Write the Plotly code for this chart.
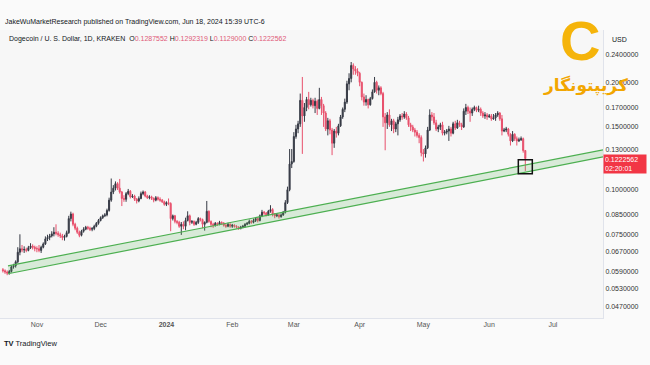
import plotly.graph_objects as go
import pandas as pd
import numpy as np

# ---------------- data ----------------
dates = pd.date_range("2023-10-16", "2024-06-18", freq="D")
first_open = 0.0597

closes = [
    # Oct 16-31
    0.0593, 0.0588, 0.0584, 0.0590, 0.0608, 0.0612, 0.0628, 0.0668, 0.0683, 0.0678, 0.0680, 0.0676, 0.0688, 0.0695, 0.0690, 0.0684,
    # Nov
    0.0683, 0.0676, 0.0690, 0.0705, 0.0728, 0.0735, 0.0742, 0.0752, 0.0760, 0.0755, 0.0748, 0.0742, 0.0735, 0.0740, 0.0758,
    0.0830, 0.0855, 0.0800, 0.0780, 0.0760, 0.0745, 0.0765, 0.0775, 0.0785, 0.0780, 0.0775, 0.0778, 0.0790, 0.0805, 0.0820,
    # Dec
    0.0835, 0.0845, 0.0850, 0.0875, 0.0935, 0.0985, 0.1010, 0.1040, 0.1010, 0.0985, 0.0945, 0.0940, 0.0975, 0.0990, 0.0955,
    0.0960, 0.0940, 0.0930, 0.0945, 0.0975, 0.0985, 0.0960, 0.0950, 0.0955, 0.0945, 0.0935, 0.0950, 0.0940, 0.0935, 0.0925, 0.0910,
    # Jan
    0.0920, 0.0915, 0.0830, 0.0845, 0.0815, 0.0810, 0.0790, 0.0800, 0.0790, 0.0820, 0.0845, 0.0810, 0.0815, 0.0800, 0.0810,
    0.0830, 0.0825, 0.0800, 0.0810, 0.0870, 0.0815, 0.0800, 0.0795, 0.0805, 0.0800, 0.0810, 0.0805, 0.0795, 0.0790, 0.0800, 0.0790,
    # Feb
    0.0795, 0.0790, 0.0785, 0.0780, 0.0785, 0.0790, 0.0800, 0.0805, 0.0815, 0.0810, 0.0820, 0.0830, 0.0820, 0.0845, 0.0865,
    0.0860, 0.0850, 0.0870, 0.0880, 0.0855, 0.0845, 0.0850, 0.0840, 0.0850, 0.0865, 0.0920, 0.1000, 0.1180, 0.1200,
    # Mar
    0.1410, 0.1480, 0.1530, 0.1780, 0.1610, 0.1700, 0.1790, 0.1730, 0.1780, 0.1720, 0.1770, 0.1690, 0.1790, 0.1720, 0.1640,
    0.1480, 0.1560, 0.1470, 0.1350, 0.1460, 0.1440, 0.1510, 0.1600, 0.1680, 0.1760, 0.1980, 0.2050, 0.2230, 0.2180, 0.2150, 0.2120,
    # Apr
    0.2000, 0.1820, 0.1760, 0.1790, 0.1730, 0.1800, 0.1880, 0.2000, 0.1900, 0.1930, 0.1860, 0.1600, 0.1540, 0.1620, 0.1520,
    0.1560, 0.1480, 0.1530, 0.1570, 0.1610, 0.1600, 0.1630, 0.1590, 0.1520, 0.1500, 0.1470, 0.1450, 0.1420, 0.1400, 0.1270,
    # May
    0.1260, 0.1310, 0.1470, 0.1620, 0.1600, 0.1540, 0.1480, 0.1500, 0.1520, 0.1440, 0.1450, 0.1460, 0.1480, 0.1440, 0.1530,
    0.1490, 0.1540, 0.1520, 0.1500, 0.1660, 0.1700, 0.1660, 0.1640, 0.1680, 0.1700, 0.1670, 0.1680, 0.1640, 0.1610, 0.1620, 0.1600,
    # Jun 1-18
    0.1610, 0.1580, 0.1590, 0.1620, 0.1640, 0.1580, 0.1460, 0.1470, 0.1480, 0.1430, 0.1370, 0.1430, 0.1390, 0.1370, 0.1380,
    0.1390, 0.1287552, 0.1222562,
]

highs = [
    0.0603, 0.0598, 0.0594, 0.0596, 0.0614, 0.0620, 0.0634, 0.0690, 0.0750, 0.0700, 0.0694, 0.0688, 0.0696, 0.0708, 0.0703, 0.0697,
    0.0694, 0.0700, 0.0697, 0.0712, 0.0740, 0.0748, 0.0752, 0.0765, 0.0785, 0.0800, 0.0765, 0.0758, 0.0752, 0.0748, 0.0768,
    0.0845, 0.0868, 0.0862, 0.0808, 0.0788, 0.0768, 0.0772, 0.0785, 0.0792, 0.0792, 0.0788, 0.0786, 0.0798, 0.0812, 0.0828,
    0.0842, 0.0852, 0.0860, 0.0885, 0.0950, 0.1075, 0.1030, 0.1055, 0.1050, 0.1072, 0.0992, 0.0965, 0.0985, 0.1005, 0.0998,
    0.0972, 0.0968, 0.0948, 0.0958, 0.0988, 0.0995, 0.0992, 0.0968, 0.0965, 0.0962, 0.0952, 0.0960, 0.0958, 0.0952, 0.0942, 0.0932,
    0.0928, 0.0945, 0.0922, 0.0852, 0.0850, 0.0822, 0.0818, 0.0812, 0.0815, 0.0835, 0.0870, 0.0852, 0.0822, 0.0820, 0.0818,
    0.0838, 0.0835, 0.0830, 0.0815, 0.0930, 0.0875, 0.0820, 0.0808, 0.0812, 0.0810, 0.0818, 0.0815, 0.0812, 0.0802, 0.0808, 0.0805,
    0.0802, 0.0800, 0.0795, 0.0790, 0.0792, 0.0797, 0.0806, 0.0812, 0.0825, 0.0822, 0.0830, 0.0838, 0.0836, 0.0852, 0.0878,
    0.0872, 0.0866, 0.0878, 0.0905, 0.0888, 0.0860, 0.0858, 0.0856, 0.0858, 0.0872, 0.0935, 0.1020, 0.1300, 0.1300,
    0.1450, 0.1520, 0.1560, 0.1860, 0.2070, 0.1750, 0.1820, 0.1880, 0.1810, 0.1800, 0.1810, 0.1790, 0.1930, 0.1820, 0.1740,
    0.1660, 0.1590, 0.1580, 0.1490, 0.1480, 0.1500, 0.1530, 0.1620, 0.1700, 0.1800, 0.2020, 0.2120, 0.2280, 0.2260, 0.2220, 0.2190,
    0.2140, 0.2010, 0.1860, 0.1840, 0.1800, 0.1820, 0.1910, 0.2070, 0.2020, 0.1960, 0.1950, 0.1880, 0.1640, 0.1650, 0.1680,
    0.1580, 0.1580, 0.1550, 0.1600, 0.1630, 0.1640, 0.1660, 0.1650, 0.1610, 0.1540, 0.1520, 0.1490, 0.1470, 0.1440, 0.1420,
    0.1300, 0.1330, 0.1500, 0.1680, 0.1650, 0.1640, 0.1570, 0.1520, 0.1540, 0.1550, 0.1470, 0.1480, 0.1510, 0.1500, 0.1550,
    0.1560, 0.1570, 0.1560, 0.1540, 0.1690, 0.1740, 0.1720, 0.1700, 0.1700, 0.1720, 0.1710, 0.1720, 0.1700, 0.1660, 0.1650, 0.1640,
    0.1630, 0.1630, 0.1630, 0.1640, 0.1660, 0.1650, 0.1620, 0.1490, 0.1500, 0.1490, 0.1440, 0.1460, 0.1440, 0.1410, 0.1400,
    0.1410, 0.1400, 0.1292319,
]

lows = [
    0.0586, 0.0581, 0.0576, 0.0578, 0.0586, 0.0601, 0.0605, 0.0622, 0.0655, 0.0668, 0.0665, 0.0668, 0.0672, 0.0682, 0.0680, 0.0672,
    0.0668, 0.0668, 0.0665, 0.0685, 0.0700, 0.0718, 0.0722, 0.0735, 0.0740, 0.0745, 0.0738, 0.0732, 0.0722, 0.0720, 0.0735,
    0.0752, 0.0815, 0.0790, 0.0770, 0.0752, 0.0736, 0.0740, 0.0758, 0.0770, 0.0772, 0.0766, 0.0765, 0.0770, 0.0785, 0.0798,
    0.0815, 0.0828, 0.0838, 0.0842, 0.0868, 0.0925, 0.0972, 0.0995, 0.0998, 0.0975, 0.0900, 0.0925, 0.0925, 0.0965, 0.0945,
    0.0948, 0.0930, 0.0915, 0.0922, 0.0940, 0.0965, 0.0952, 0.0942, 0.0940, 0.0936, 0.0922, 0.0928, 0.0932, 0.0925, 0.0918, 0.0902,
    0.0900, 0.0905, 0.0765, 0.0820, 0.0805, 0.0800, 0.0782, 0.0747, 0.0775, 0.0770, 0.0815, 0.0795, 0.0802, 0.0792, 0.0795,
    0.0802, 0.0815, 0.0780, 0.0768, 0.0805, 0.0808, 0.0785, 0.0782, 0.0788, 0.0792, 0.0795, 0.0798, 0.0788, 0.0782, 0.0785, 0.0782,
    0.0782, 0.0783, 0.0778, 0.0772, 0.0774, 0.0780, 0.0784, 0.0795, 0.0800, 0.0803, 0.0805, 0.0812, 0.0810, 0.0815, 0.0838,
    0.0850, 0.0842, 0.0845, 0.0862, 0.0842, 0.0832, 0.0838, 0.0830, 0.0835, 0.0845, 0.0858, 0.0912, 0.0990, 0.1150,
    0.1190, 0.1390, 0.1440, 0.1500, 0.1260, 0.1550, 0.1660, 0.1680, 0.1710, 0.1690, 0.1640, 0.1620, 0.1680, 0.1620, 0.1500,
    0.1460, 0.1420, 0.1430, 0.1250, 0.1310, 0.1400, 0.1420, 0.1500, 0.1580, 0.1650, 0.1740, 0.1900, 0.2000, 0.2100, 0.2100, 0.2080,
    0.1950, 0.1780, 0.1720, 0.1720, 0.1690, 0.1720, 0.1790, 0.1870, 0.1860, 0.1840, 0.1840, 0.1500, 0.1290, 0.1480, 0.1500,
    0.1460, 0.1440, 0.1450, 0.1420, 0.1550, 0.1570, 0.1580, 0.1570, 0.1500, 0.1460, 0.1450, 0.1410, 0.1400, 0.1350, 0.1240,
    0.1200, 0.1230, 0.1300, 0.1460, 0.1560, 0.1520, 0.1460, 0.1450, 0.1470, 0.1420, 0.1420, 0.1430, 0.1370, 0.1410, 0.1430,
    0.1470, 0.1480, 0.1500, 0.1470, 0.1490, 0.1620, 0.1630, 0.1550, 0.1610, 0.1660, 0.1650, 0.1650, 0.1610, 0.1590, 0.1580, 0.1570,
    0.1590, 0.1560, 0.1570, 0.1560, 0.1600, 0.1560, 0.1420, 0.1450, 0.1450, 0.1410, 0.1330, 0.1360, 0.1370, 0.1330, 0.1360,
    0.1370, 0.1270, 0.1129,
]

# daily crypto candles open at the previous day's close
opens = [first_open] + closes[:-1]
assert len(closes) == len(highs) == len(lows) == len(dates), (len(closes), len(highs), len(lows), len(dates))

y_ticks = [0.047, 0.053, 0.059, 0.067, 0.075, 0.085, 0.10, 0.13, 0.15, 0.17, 0.20, 0.24]
y_tick_labels = [f"{v:.7f}" for v in y_ticks]
month_ticks = ["2023-11-01", "2023-12-01", "2024-01-01", "2024-02-01", "2024-03-01",
               "2024-04-01", "2024-05-01", "2024-06-01", "2024-07-01"]
month_labels = ["Nov", "Dec", "<b>2024</b>", "Feb", "Mar", "Apr", "May", "Jun", "Jul"]

channel_dates = ["2023-10-18 09:00", "2024-07-24 14:00"]
channel_lower = [0.05813, 0.12357]
channel_upper = [0.06120, 0.12927]

box_date = ["2024-06-18"]
box_price = [0.1159]

x_range = ["2023-10-14 15:00", "2024-07-24 14:00"]
y_range = [np.log10(0.0437), np.log10(0.2803)]

UP = "#363a45"
DOWN = "#e8506c"
GREEN = "#4caf50"
FONT = "Liberation Sans, Arial, sans-serif"

fig = go.Figure()

fig.add_trace(go.Scatter(x=channel_dates, y=channel_lower, mode="lines",
                         line=dict(color=GREEN, width=1.2), hoverinfo="skip", showlegend=False))
fig.add_trace(go.Scatter(x=channel_dates, y=channel_upper, mode="lines",
                         line=dict(color=GREEN, width=1.2), fill="tonexty",
                         fillcolor="rgba(76,175,80,0.18)", hoverinfo="skip", showlegend=False))

fig.add_trace(go.Candlestick(
    x=dates, open=opens, high=highs, low=lows, close=closes,
    increasing=dict(line=dict(color=UP, width=1), fillcolor=UP),
    decreasing=dict(line=dict(color=DOWN, width=1), fillcolor=DOWN),
    whiskerwidth=0, showlegend=False, hoverinfo="skip"))

fig.add_trace(go.Scatter(x=box_date, y=box_price, mode="markers",
                         marker=dict(symbol="square-open", size=14, color="#111111",
                                     line=dict(width=1.5, color="#111111")),
                         hoverinfo="skip", showlegend=False))

PLOT_W = 603.0
PLOT_H = 288.0
def px_x(p):
    return p / PLOT_W
def px_y(p):
    return (318.0 - p) / PLOT_H

val = lambda s: f"<span style='color:#e05a78'>{s}</span>"
header2 = ("Dogecoin / U. S. Dollar, 1D, KRAKEN&nbsp;&nbsp;O" + val("0.1287552") + " H" + val("0.1292319")
           + " L" + val("0.1129000") + " C" + val("0.1222562"))

annotations = [
    dict(text="JakeWuMarketResearch published on TradingView.com, Jun 18, 2024 15:39 UTC-6",
         xref="paper", yref="paper", x=px_x(3), y=px_y(22), xanchor="left", yanchor="middle",
         showarrow=False, font=dict(family=FONT, size=7, color="#131722")),
    dict(text=header2, xref="paper", yref="paper", x=px_x(7), y=px_y(39), xanchor="left", yanchor="middle",
         showarrow=False, font=dict(family=FONT, size=7, color="#131722")),
    dict(text="USD", xref="paper", yref="paper", x=px_x(610), y=px_y(39), xanchor="left", yanchor="middle",
         showarrow=False, font=dict(family=FONT, size=7, color="#131722")),
    dict(text="0.1222562<br>02:20:01", xref="paper", yref="y", x=1.0, y=np.log10(closes[-1]),
         xanchor="left", yanchor="top", yshift=5, showarrow=False, align="left",
         bgcolor="#f23645", borderpad=1, width=40,
         font=dict(family=FONT, size=7, color="#ffffff")),
    dict(text="<b>TV</b> TradingView", xref="paper", yref="paper", x=px_x(2), y=px_y(343),
         xanchor="left", yanchor="middle", showarrow=False,
         font=dict(family=FONT, size=7.5, color="#131722")),
    dict(text="<b>C</b>", xref="paper", yref="paper", x=px_x(580), y=px_y(41),
         xanchor="center", yanchor="middle", showarrow=False,
         font=dict(family=FONT, size=56, color="#f5b40a")),
    dict(text="<b>کریپتونگار</b>", xref="paper", yref="paper", x=px_x(585), y=px_y(85),
         xanchor="center", yanchor="middle", showarrow=False,
         font=dict(family="DejaVu Sans, sans-serif", size=17, color="#f2a600")),
]

fig.update_layout(
    width=650, height=365,
    margin=dict(l=0, r=47, t=30, b=47),
    paper_bgcolor="#fafafa", plot_bgcolor="#f7f7f7",
    font=dict(family=FONT, size=7, color="#333333"),
    showlegend=False,
    annotations=annotations,
    xaxis=dict(type="date", range=x_range, tickvals=month_ticks, ticktext=month_labels,
               showgrid=False, zeroline=False, showline=True, linecolor="#e0e3eb", linewidth=1,
               ticks="", tickfont=dict(family=FONT, size=7, color="#555555"),
               rangeslider=dict(visible=False), fixedrange=True),
    yaxis=dict(type="log", side="right", range=y_range, tickvals=y_ticks, ticktext=y_tick_labels,
               showgrid=False, zeroline=False, showline=True, linecolor="#e0e3eb", linewidth=1,
               ticks="", tickfont=dict(family=FONT, size=7, color="#333333"), fixedrange=True),
)

fig.write_html("out.html", config={"displayModeBar": False},
               post_script="document.body.style.margin='0';document.body.style.padding='0';")
